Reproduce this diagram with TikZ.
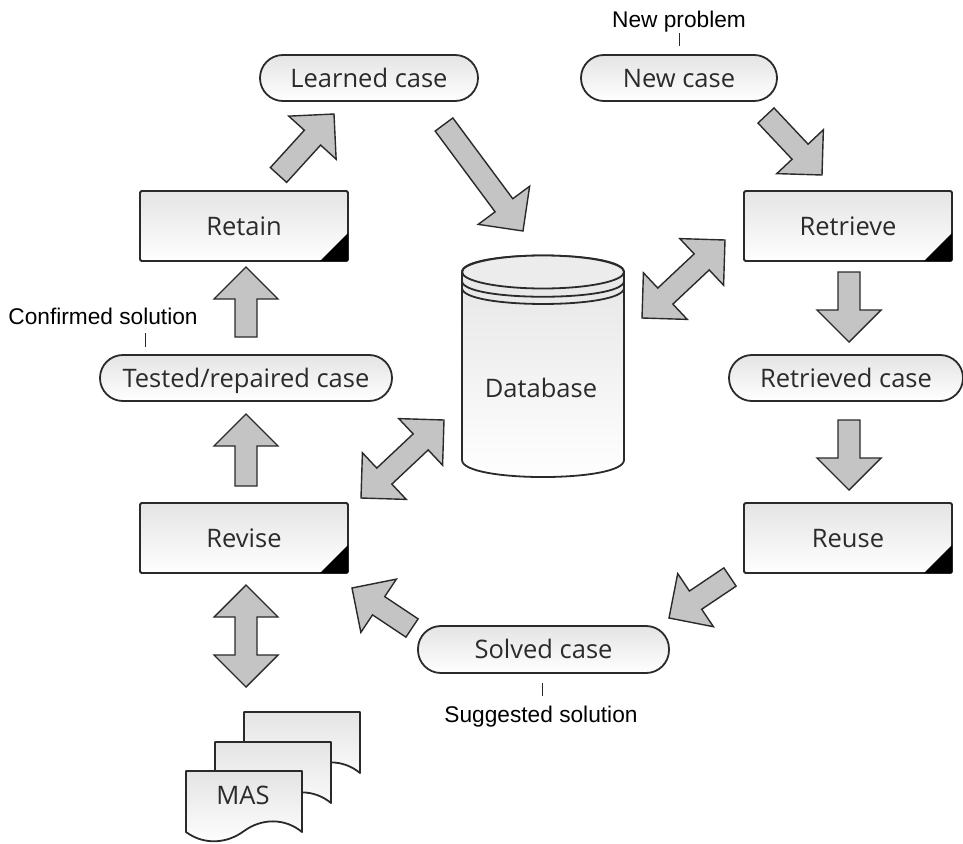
\documentclass[tikz,border=0pt]{standalone}
\usepackage{fontspec}
\setmainfont{Open Sans}
\newfontfamily\notefont{Liberation Sans}
\usetikzlibrary{calc}
\definecolor{ink}{HTML}{2A2A2A}
\definecolor{textgrey}{HTML}{2B2B2B}
\definecolor{arrowgrey}{HTML}{C4C4C4}
\definecolor{topgrey}{HTML}{E4E4E4}
\tikzset{
  boxtext/.style={font=\fontsize{25.5}{27}\selectfont, text=textgrey, text height=21pt, text depth=3pt},
  shaded/.style={draw=ink, line width=1.8pt, top color=topgrey, bottom color=white},
  procbox/.style={shaded, boxtext, rectangle, rounded corners=1.5pt, minimum width=208pt, minimum height=70pt, inner sep=0pt, outer sep=0pt},
  pill/.style={shaded, boxtext, rectangle, rounded corners=22.9pt, minimum height=46pt, inner sep=0pt, outer sep=0pt},
  note/.style={font=\notefont\fontsize{22.7}{24}\selectfont, text=black, inner sep=0pt, text height=19pt, text depth=3pt},
  tick/.style={draw=ink, line width=1pt},
  fat/.style={draw=ink, fill=arrowgrey, line width=1.4pt, line join=miter},
  doc/.style={shaded, line join=round},
}
\newcommand{\fatarrow}[2]{%
  \coordinate (H) at ($(#2)!32pt!(#1)$);
  \draw[fat] ($(#1)!11pt!90:(#2)$) -- ($(H)!11pt!-90:(#1)$) -- ($(H)!32pt!-90:(#1)$) -- (#2)
    -- ($(H)!32pt!90:(#1)$) -- ($(H)!11pt!90:(#1)$) -- ($(#1)!11pt!-90:(#2)$) -- cycle;}
\newcommand{\dblarrow}[2]{%
  \coordinate (H) at ($(#2)!32pt!(#1)$);
  \coordinate (J) at ($(#1)!32pt!(#2)$);
  \draw[fat] (#1) -- ($(J)!32pt!-90:(#2)$) -- ($(J)!11pt!-90:(#2)$)
    -- ($(H)!11pt!90:(#1)$) -- ($(H)!32pt!90:(#1)$) -- (#2)
    -- ($(H)!32pt!-90:(#1)$) -- ($(H)!11pt!-90:(#1)$)
    -- ($(J)!11pt!90:(#2)$) -- ($(J)!32pt!90:(#2)$) -- cycle;}
\newcommand{\mkdoc}[2]{%
  \begin{scope}[shift={(#1,#2)}]
  \path[doc] (186,771) -- (302,771) -- (302,832)
    .. controls (285,818) and (262,818) .. (244,831)
    .. controls (228,843) and (205,846) .. (186,832) -- cycle;
  \end{scope}}
\begin{document}
\begin{tikzpicture}[x=1pt,y=-1pt]
\useasboundingbox (0,0) rectangle (963,843);
% process boxes
\node[procbox] (retain) at (244,226) {Retain};
\node[procbox] (retrieve) at (848,226) {Retrieve};
\node[procbox] (revise) at (244,538) {Revise};
\node[procbox] (reuse) at (848,538) {Reuse};
\foreach \n in {retain,retrieve,revise,reuse}
  \fill[black] (\n.south east) -- ++(-28,0) -- ++(28,-28) -- cycle;
% pills
\node[pill, minimum width=218pt] (learned) at (369,78) {Learned case};
\node[pill, minimum width=196pt] (newcase) at (679,78) {New case};
\node[pill, minimum width=234pt] (retrieved) at (846,378) {Retrieved case};
\node[pill, minimum width=292pt] (tested) at (246,378) {Tested/repaired case};
\node[pill, minimum width=251pt, minimum height=47pt] (solved) at (543.5,649.5) {Solved case};
% database
\path[shaded] (462,272) -- (462,460) .. controls (462,482.7) and (624,482.7) .. (624,460) -- (624,272)
  .. controls (624,250) and (462,250) .. (462,272) -- cycle;
\draw[draw=ink, line width=1.8pt, fill=topgrey!70!white] (543,272) ellipse [x radius=81pt, y radius=16.5pt];
\draw[draw=ink, line width=1.8pt] (462,281) .. controls (462,302) and (624,302) .. (624,281);
\draw[draw=ink, line width=1.8pt] (462,288) .. controls (462,309.3) and (624,309.3) .. (624,288);
\node[boxtext] (database) at (541,388) {Database};
% documents
\mkdoc{58}{-59}
\mkdoc{29}{-29}
\mkdoc{0}{0}
\node[boxtext] (mas) at (243,795) {MAS};
% notes
\node[note] (newproblem) at (679,20) {New problem};
\node[note] (confirmed) at (103,316) {Confirmed solution};
\node[note] (suggested) at (541,714) {Suggested solution};
\draw[tick] (newcase.north) ++(0,-9) -- ++(0,-13);
\draw[tick] (tested.north west) ++(45,-8) -- ++(0,-14);
\draw[tick] (solved.south) ++(-1.5,10) -- ++(0,13);
% arrow ends
\coordinate (a1t) at (278.5,175);  \coordinate (a1h) at (334,114);
\coordinate (a2t) at (444,124.5);  \coordinate (a2h) at (523,231);
\coordinate (a3t) at (766,115.5);  \coordinate (a3h) at (822,175);
\coordinate (a5t) at (849,272);    \coordinate (a5h) at (849,342);
\coordinate (a6t) at (849,420);    \coordinate (a6h) at (849,490);
\coordinate (a7t) at (730,577);    \coordinate (a7h) at (669,618);
\coordinate (a8t) at (412,628);    \coordinate (a8h) at (352,588);
\coordinate (a10t) at (246,486);   \coordinate (a10h) at (246,414);
\coordinate (a11t) at (246,337);   \coordinate (a11h) at (246,267);
\coordinate (d1a) at (725,240);    \coordinate (d1b) at (642,318);
\coordinate (d2a) at (444,420);    \coordinate (d2b) at (361,498);
\coordinate (d3a) at (246,585);    \coordinate (d3b) at (246,687);
\fatarrow{a1t}{a1h}
\fatarrow{a2t}{a2h}
\fatarrow{a3t}{a3h}
\fatarrow{a5t}{a5h}
\fatarrow{a6t}{a6h}
\fatarrow{a7t}{a7h}
\fatarrow{a8t}{a8h}
\fatarrow{a10t}{a10h}
\fatarrow{a11t}{a11h}
\dblarrow{d1a}{d1b}
\dblarrow{d2a}{d2b}
\dblarrow{d3a}{d3b}
\end{tikzpicture}
\end{document}
